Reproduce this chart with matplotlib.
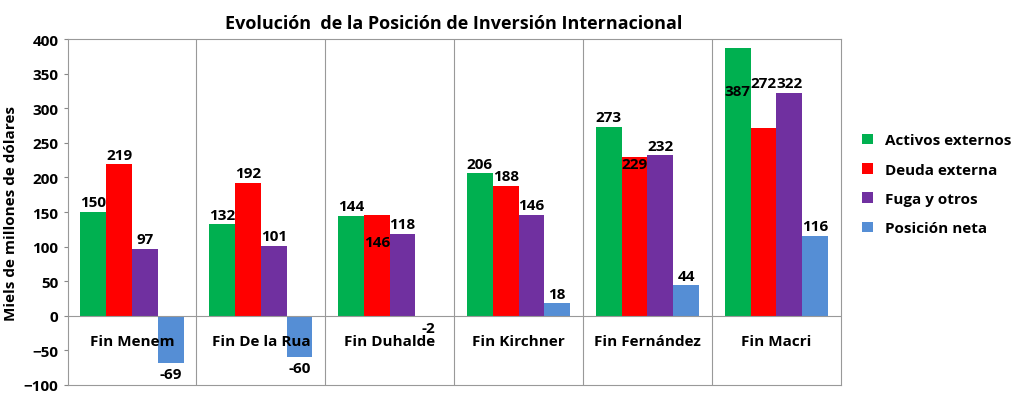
import numpy as np
import matplotlib
matplotlib.use("Agg")
import matplotlib.pyplot as plt

plt.rcParams['font.family'] = ['Open Sans', 'DejaVu Sans']
plt.rcParams['font.weight'] = 'bold'

categorias = ["Fin Menem", "Fin De la Rua", "Fin Duhalde", "Fin Kirchner", "Fin Fernández", "Fin Macri"]
series = ["Activos externos", "Deuda externa", "Fuga y otros", "Posición neta"]
activos = [150, 132, 144, 206, 273, 387]
deuda = [219, 192, 146, 188, 229, 272]
fuga = [97, 101, 118, 146, 232, 322]
neta = [-69, -60, -2, 18, 44, 116]
colores = ["#00B050", "#FF0000", "#7030A0", "#558ED5"]

# etiquetas que Excel movió de sitio: (serie, categoría) -> y de la etiqueta
ajustes = {(1, 2): 107, (0, 5): 325, (1, 5): 336, (1, 4): 220}

fig = plt.figure(figsize=(10.24, 4.14), dpi=100)
ax = fig.add_axes([0.066, 0.068, 0.755, 0.835])

x = np.arange(len(categorias))
w = 0.2
datos = [activos, deuda, fuga, neta]
for i, (vals, c, nombre) in enumerate(zip(datos, colores, series)):
    pos = x - 0.3 + i * w
    ax.bar(pos, vals, w, color=c, label=nombre, zorder=3)
    for j, (p, v) in enumerate(zip(pos, vals)):
        if (i, j) in ajustes:
            ty = ajustes[(i, j)]
        elif v >= 0:
            ty = v + 14
        else:
            ty = v - 16
        ax.text(p, ty, str(v), ha='center', va='center', fontsize=11, fontweight='bold')

for j, cat in enumerate(categorias):
    ax.text(j, -36, cat, ha='center', va='center', fontsize=11, fontweight='bold')

ax.set_xlim(-0.5, len(categorias) - 0.5)
ax.set_ylim(-100, 400)
ax.set_yticks(range(-100, 401, 50))
ax.tick_params(axis='y', labelsize=11, length=3, color='#888888')
ax.set_xticks([])
for b in np.arange(0.5, len(categorias) - 0.5, 1):
    ax.axvline(b, color='#999999', lw=0.8, zorder=1)
ax.axhline(0, color='#999999', lw=0.8, zorder=4)
for s in ax.spines.values():
    s.set_color('#999999')
ax.set_ylabel("Miels de millones de dólares", fontsize=11, fontweight='bold')
ax.set_title("Evolución  de la Posición de Inversión Internacional", fontsize=13, fontweight='bold', pad=8)

ax.legend(loc='center left', bbox_to_anchor=(1.01, 0.58), frameon=False, fontsize=11,
          handlelength=0.7, handleheight=0.7, labelspacing=1.0)

fig.savefig("out.png", dpi=100)
